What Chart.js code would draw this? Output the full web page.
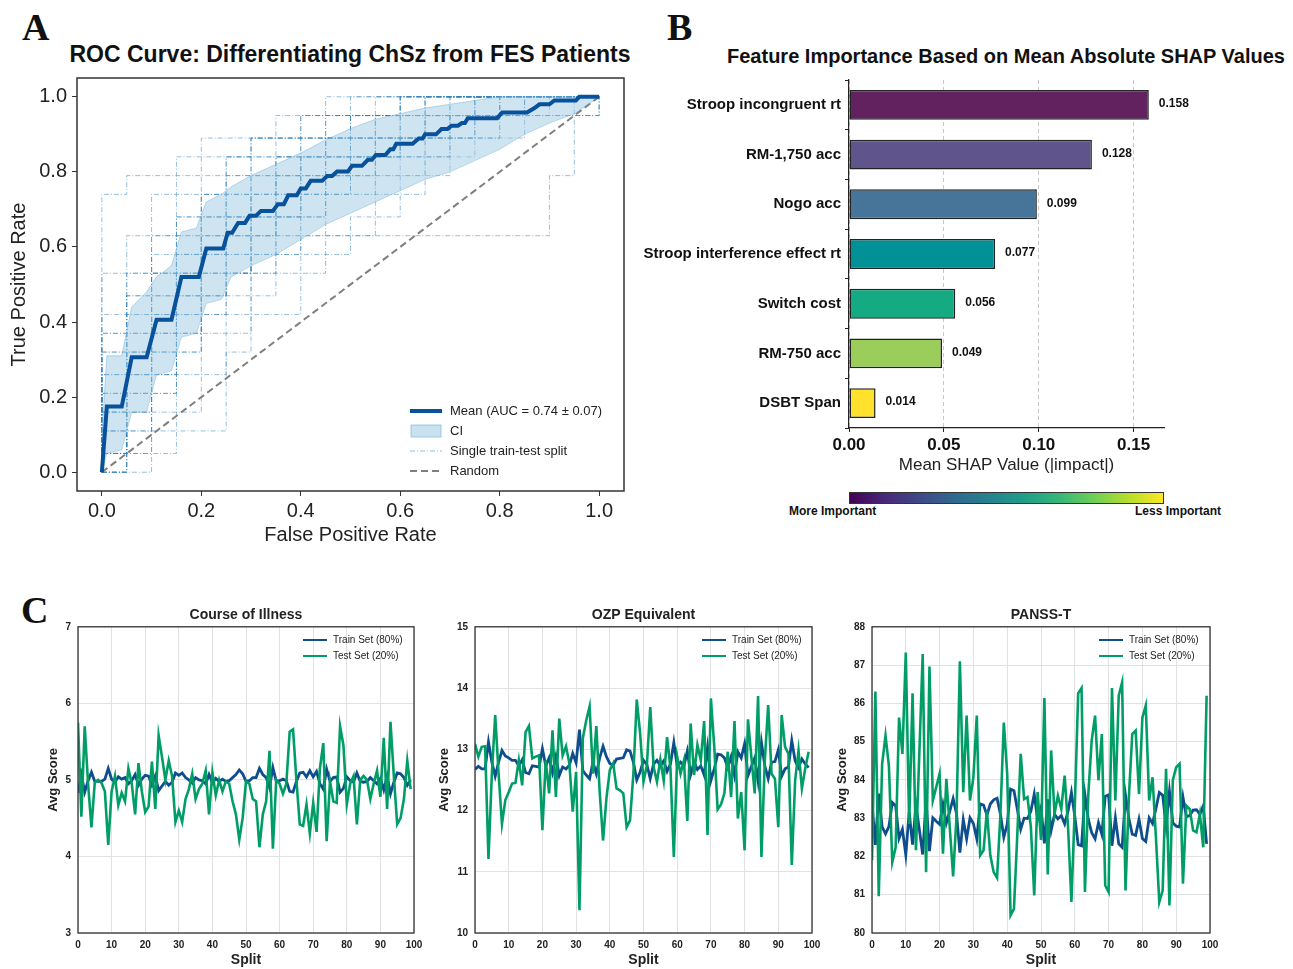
<!DOCTYPE html>
<html>
<head>
<meta charset="utf-8">
<script src="https://cdn.jsdelivr.net/npm/chart.js@4.4.1/dist/chart.umd.min.js"></script>
<style>
  body { margin: 0; background: #fff; width: 1293px; height: 969px; position: relative; overflow: hidden;
         font-family: 'Liberation Sans', Arial, sans-serif; color: #222; }
  canvas, .abs { position: absolute; }
  .letter { position: absolute; font-family: 'Liberation Serif', 'Times New Roman', serif; font-weight: bold;
            font-size: 38px; line-height: 38px; color: #111; }
  .ttl { position: absolute; text-align: center; font-weight: bold; color: #111; white-space: nowrap; }
  .lg { position: absolute; white-space: nowrap; }
  .lg svg { position: absolute; }
  .lg span { position: absolute; }
</style>
</head>
<body>

<div class="letter" style="left:22px; top:8px;">A</div>
<div class="letter" style="left:667px; top:8px;">B</div>
<div class="letter" style="left:21px; top:591px;">C</div>

<div class="ttl" style="left:0; width:700px; top:40px; font-size:23px; line-height:28px;">ROC Curve: Differentiating ChSz from FES Patients</div>
<div class="ttl" style="left:706px; width:600px; top:44px; font-size:20px; line-height:24px;">Feature Importance Based on Mean Absolute SHAP Values</div>

<canvas id="roc" width="640" height="560" style="left:0; top:0;"></canvas>
<canvas id="shap" width="653" height="490" style="left:640px; top:0;"></canvas>
<canvas id="c1" width="430" height="374" style="left:0; top:595px;"></canvas>
<canvas id="c2" width="410" height="374" style="left:420px; top:595px;"></canvas>
<canvas id="c3" width="410" height="374" style="left:820px; top:595px;"></canvas>

<!-- ROC legend -->
<div class="lg" style="left:408px; top:400px; font-size:13px; line-height:16px;">
  <svg width="36" height="80" style="left:0; top:0;">
    <line x1="2" y1="11" x2="34" y2="11" stroke="#08519c" stroke-width="4"/>
    <rect x="3" y="25" width="30" height="12" fill="rgba(158,202,225,0.55)" stroke="rgba(107,174,214,0.6)" stroke-width="1"/>
    <line x1="2" y1="51" x2="34" y2="51" stroke="rgba(66,146,198,0.6)" stroke-width="1" stroke-dasharray="5,2,1,2"/>
    <line x1="2" y1="71" x2="34" y2="71" stroke="#7f7f7f" stroke-width="2" stroke-dasharray="7,4"/>
  </svg>
  <span style="left:42px; top:3px;">Mean (AUC = 0.74 ± 0.07)</span>
  <span style="left:42px; top:23px;">CI</span>
  <span style="left:42px; top:43px;">Single train-test split</span>
  <span style="left:42px; top:63px;">Random</span>
</div>

<!-- SHAP colorbar -->
<div class="abs" style="left:849px; top:492px; width:313px; height:10px; border:1px solid #333;
     background:linear-gradient(to right,#440154,#482878,#3e4989,#31688e,#26828e,#1f9e89,#35b779,#6ece58,#b5de2b,#fde725);"></div>
<div class="abs" style="left:789px; top:504px; font-size:12px; font-weight:bold; color:#111;">More Important</div>
<div class="abs" style="left:1135px; top:504px; font-size:12px; font-weight:bold; color:#111;">Less Important</div>

<!-- C legends -->
<div class="lg" style="left:302px; top:632px; font-size:10px; line-height:14px;" id="lgc1"></div>
<div class="lg" style="left:701px; top:632px; font-size:10px; line-height:14px;" id="lgc2"></div>
<div class="lg" style="left:1098px; top:632px; font-size:10px; line-height:14px;" id="lgc3"></div>

<script>
// ---------- Panel A: ROC ----------
const rocTicks = [0, 0.2, 0.4, 0.6, 0.8, 1.0];

const meanFpr = [0, 0.01, 0.04, 0.06, 0.09, 0.11, 0.14, 0.16, 0.195, 0.21, 0.244, 0.253, 0.262, 0.274, 0.288,
  0.297, 0.31, 0.32, 0.344, 0.354, 0.366, 0.375, 0.392, 0.40, 0.41, 0.42, 0.443, 0.453, 0.463, 0.473, 0.495,
  0.503, 0.523, 0.535, 0.543, 0.551, 0.57, 0.58, 0.586, 0.592, 0.625, 0.637, 0.645, 0.65, 0.672, 0.683, 0.695,
  0.703, 0.716, 0.724, 0.73, 0.736, 0.795, 0.805, 0.855, 0.87, 0.88, 0.9, 0.91, 0.953, 0.96, 1.0];
const meanTpr = [0, 0.175, 0.175, 0.306, 0.306, 0.406, 0.406, 0.52, 0.52, 0.596, 0.596, 0.638, 0.638, 0.664, 0.664,
  0.683, 0.683, 0.696, 0.696, 0.714, 0.714, 0.738, 0.738, 0.756, 0.756, 0.776, 0.776, 0.789, 0.789, 0.801, 0.801,
  0.816, 0.816, 0.832, 0.832, 0.845, 0.845, 0.86, 0.86, 0.875, 0.875, 0.889, 0.889, 0.90, 0.90, 0.914, 0.914,
  0.923, 0.923, 0.93, 0.93, 0.943, 0.943, 0.958, 0.958, 0.97, 0.98, 0.98, 0.99, 0.99, 1.0, 1.0];

const ciFpr = [0, 0.01, 0.04, 0.06, 0.09, 0.11, 0.14, 0.16, 0.19, 0.21, 0.24, 0.26, 0.3, 0.35, 0.4, 0.45, 0.5,
  0.55, 0.6, 0.65, 0.7, 0.75, 0.8, 0.85, 0.9, 0.95, 1.0];
const ciUpper = [0.1, 0.31, 0.31, 0.44, 0.48, 0.52, 0.55, 0.64, 0.65, 0.72, 0.74, 0.76, 0.79, 0.82, 0.85, 0.885,
  0.915, 0.94, 0.955, 0.97, 0.98, 0.99, 1.0, 1.0, 1.0, 1.0, 1.0];
const ciLower = [0, 0.05, 0.06, 0.16, 0.16, 0.26, 0.27, 0.36, 0.37, 0.45, 0.46, 0.52, 0.55, 0.58, 0.62, 0.66,
  0.69, 0.72, 0.75, 0.78, 0.8, 0.83, 0.86, 0.9, 0.93, 0.955, 1.0];

const randomFpr = [0, 1];
const randomTpr = [0, 1];

// one ROC per train-test split, TPR read at each FPR step
const splitFpr = [0, 0, 0.05, 0.1, 0.15, 0.2, 0.25, 0.3, 0.35, 0.4, 0.45, 0.5, 0.55, 0.6, 0.65, 0.7, 0.75, 0.8,
  0.85, 0.9, 0.95, 1.0];
const splitTprs = [
  [0, 0.74, 0.79, 0.79, 0.84, 0.89, 0.89, 0.89, 0.95, 0.95, 1, 1, 1, 1, 1, 1, 1, 1, 1, 1, 1, 1],
  [0, 0.53, 0.63, 0.74, 0.79, 0.84, 0.84, 0.89, 0.89, 0.95, 0.95, 0.95, 0.95, 1, 1, 1, 1, 1, 1, 1, 1, 1],
  [0, 0.32, 0.37, 0.53, 0.63, 0.68, 0.74, 0.79, 0.84, 0.84, 0.89, 0.95, 0.95, 0.95, 1, 1, 1, 1, 1, 1, 1, 1],
  [0, 0.16, 0.32, 0.42, 0.53, 0.63, 0.68, 0.68, 0.74, 0.79, 0.84, 0.84, 0.89, 0.89, 0.95, 0.95, 0.95, 1, 1, 1, 1, 1],
  [0, 0, 0.05, 0.32, 0.42, 0.58, 0.58, 0.63, 0.68, 0.74, 0.79, 0.84, 0.84, 0.89, 0.89, 0.95, 0.95, 1, 1, 1, 1, 1],
  [0, 0.05, 0.16, 0.21, 0.37, 0.47, 0.53, 0.58, 0.68, 0.74, 0.74, 0.79, 0.84, 0.84, 0.89, 0.89, 0.95, 0.95, 1, 1, 1, 1],
  [0, 0, 0, 0.11, 0.11, 0.11, 0.37, 0.47, 0.53, 0.58, 0.63, 0.68, 0.74, 0.79, 0.84, 0.89, 0.95, 0.95, 1, 1, 1, 1],
  [0, 0, 0.05, 0.05, 0.16, 0.26, 0.32, 0.42, 0.42, 0.53, 0.58, 0.63, 0.68, 0.74, 0.79, 0.84, 0.89, 0.89, 0.95, 0.95, 1, 1],
  [0, 0.21, 0.26, 0.37, 0.47, 0.53, 0.63, 0.63, 0.68, 0.74, 0.79, 0.84, 0.84, 0.89, 0.89, 0.95, 0.95, 0.95, 1, 1, 1, 1],
  [0, 0.11, 0.21, 0.26, 0.32, 0.37, 0.42, 0.53, 0.58, 0.63, 0.63, 0.63, 0.63, 0.63, 0.63, 0.63, 0.63, 0.63, 0.63, 0.79, 0.95, 1],
  [0, 0.37, 0.47, 0.58, 0.68, 0.74, 0.79, 0.84, 0.84, 0.89, 0.89, 0.95, 0.95, 0.95, 0.95, 0.95, 0.95, 1, 1, 1, 1, 1],
  [0, 0.26, 0.42, 0.47, 0.58, 0.63, 0.68, 0.74, 0.79, 0.79, 0.84, 0.89, 0.89, 0.95, 0.95, 1, 1, 1, 1, 1, 1, 1],
  [0, 0.05, 0.11, 0.16, 0.26, 0.42, 0.53, 0.53, 0.58, 0.63, 0.74, 0.74, 0.79, 0.84, 0.84, 0.89, 0.89, 0.95, 0.95, 1, 1, 1],
  [0, 0.16, 0.37, 0.47, 0.58, 0.68, 0.74, 0.74, 0.79, 0.84, 0.89, 0.89, 0.89, 0.95, 0.95, 0.95, 1, 1, 1, 1, 1, 1],
  [0, 0, 0.26, 0.37, 0.42, 0.47, 0.53, 0.63, 0.68, 0.68, 0.74, 0.79, 0.84, 0.84, 0.89, 0.89, 0.89, 0.95, 0.95, 0.95, 0.95, 1],
  [0, 0.11, 0.16, 0.26, 0.37, 0.47, 0.53, 0.58, 0.63, 0.68, 0.74, 0.74, 0.79, 0.79, 0.84, 0.89, 0.95, 0.95, 1, 1, 1, 1],
  [0, 0.05, 0.21, 0.32, 0.47, 0.53, 0.58, 0.68, 0.74, 0.79, 0.79, 0.84, 0.89, 0.89, 0.95, 0.95, 1, 1, 1, 1, 1, 1],
  [0, 0.26, 0.32, 0.42, 0.53, 0.58, 0.63, 0.68, 0.74, 0.79, 0.84, 0.84, 0.89, 0.89, 0.89, 0.95, 0.95, 0.95, 0.95, 0.95, 0.95, 1],
  [0, 0.42, 0.53, 0.63, 0.74, 0.79, 0.84, 0.89, 0.89, 0.95, 0.95, 1, 1, 1, 1, 1, 1, 1, 1, 1, 1, 1],
  [0, 0.11, 0.26, 0.42, 0.53, 0.63, 0.68, 0.74, 0.79, 0.84, 0.89, 0.89, 0.95, 0.95, 0.95, 1, 1, 1, 1, 1, 1, 1],
  [0, 0.05, 0.11, 0.21, 0.32, 0.42, 0.47, 0.58, 0.63, 0.68, 0.74, 0.79, 0.84, 0.89, 0.89, 0.95, 0.95, 1, 1, 1, 1, 1],
  [0, 0.21, 0.37, 0.47, 0.53, 0.58, 0.68, 0.74, 0.79, 0.84, 0.84, 0.89, 0.95, 0.95, 1, 1, 1, 1, 1, 1, 1, 1],
  [0, 0.16, 0.21, 0.32, 0.42, 0.47, 0.58, 0.63, 0.68, 0.74, 0.79, 0.84, 0.84, 0.89, 0.89, 0.95, 0.95, 0.95, 1, 1, 1, 1],
  [0, 0.32, 0.42, 0.53, 0.58, 0.68, 0.74, 0.79, 0.84, 0.89, 0.89, 0.95, 0.95, 1, 1, 1, 1, 1, 1, 1, 1, 1],
  [0, 0.05, 0.26, 0.42, 0.47, 0.58, 0.63, 0.68, 0.74, 0.74, 0.79, 0.84, 0.89, 0.89, 0.95, 0.95, 1, 1, 1, 1, 1, 1],
  [0, 0.26, 0.47, 0.53, 0.63, 0.74, 0.79, 0.84, 0.89, 0.89, 0.95, 0.95, 0.95, 1, 1, 1, 1, 1, 1, 1, 1, 1],
  [0, 0.11, 0.32, 0.37, 0.47, 0.53, 0.53, 0.63, 0.68, 0.74, 0.79, 0.79, 0.84, 0.89, 0.95, 0.95, 0.95, 1, 1, 1, 1, 1],
  [0, 0.16, 0.26, 0.53, 0.58, 0.63, 0.68, 0.79, 0.84, 0.84, 0.89, 0.89, 0.95, 0.95, 1, 1, 1, 1, 1, 1, 1, 1],
  [0, 0, 0.16, 0.37, 0.53, 0.58, 0.63, 0.74, 0.79, 0.84, 0.84, 0.89, 0.89, 0.95, 0.95, 0.95, 1, 1, 1, 1, 1, 1],
  [0, 0.37, 0.53, 0.63, 0.68, 0.74, 0.84, 0.89, 0.89, 0.89, 0.95, 0.95, 1, 1, 1, 1, 1, 1, 1, 1, 1, 1],
  [0, 0.05, 0.21, 0.26, 0.37, 0.53, 0.63, 0.68, 0.74, 0.79, 0.84, 0.89, 0.89, 0.89, 0.95, 0.95, 0.95, 1, 1, 1, 1, 1],
  [0, 0.21, 0.32, 0.42, 0.58, 0.68, 0.74, 0.74, 0.79, 0.84, 0.89, 0.95, 0.95, 1, 1, 1, 1, 1, 1, 1, 1, 1],
];

// ---------- Panel B: SHAP ----------
const featureNames = ['Stroop incongruent rt', 'RM-1,750 acc', 'Nogo acc', 'Stroop interference effect rt',
  'Switch cost', 'RM-750 acc', 'DSBT Span'];
const shapValues = [0.158, 0.128, 0.099, 0.077, 0.056, 0.049, 0.014];
const shapTicks = [0, 0.05, 0.10, 0.15];

// ---------- Panel C: score balance per split ----------
const splitIdx = [0, 1, 2, 3, 4, 5, 6, 7, 8, 9, 10, 11, 12, 13, 14, 15, 16, 17, 18, 19, 20, 21, 22, 23, 24, 25,
  26, 27, 28, 29, 30, 31, 32, 33, 34, 35, 36, 37, 38, 39, 40, 41, 42, 43, 44, 45, 46, 47, 48, 49, 50, 51, 52,
  53, 54, 55, 56, 57, 58, 59, 60, 61, 62, 63, 64, 65, 66, 67, 68, 69, 70, 71, 72, 73, 74, 75, 76, 77, 78, 79,
  80, 81, 82, 83, 84, 85, 86, 87, 88, 89, 90, 91, 92, 93, 94, 95, 96, 97, 98, 99];

const illnessTrain = [4.83, 5.07, 4.84, 4.99, 5.10, 4.98, 4.98, 4.98, 5.01, 5.15,
  5.01, 4.97, 5.04, 5.01, 5.03, 4.95, 4.99, 5.07, 4.93, 5.01,
  5.06, 5.05, 4.93, 5.05, 4.86, 4.92, 4.98, 4.93, 4.97, 5.09,
  5.06, 5.09, 5.03, 5.00, 4.96, 5.03, 5.00, 4.99, 4.95, 5.07,
  4.96, 5.02, 4.98, 5.01, 4.98, 4.99, 5.03, 5.07, 5.13, 5.08,
  4.98, 4.99, 5.03, 5.03, 5.15, 5.07, 5.03, 4.90, 5.16, 4.98,
  4.99, 5.01, 4.99, 4.85, 4.84, 4.98, 5.09, 5.10, 5.04, 5.12,
  5.04, 5.11, 4.95, 4.88, 5.14, 4.98, 5.03, 5.04, 4.84, 4.89,
  5.04, 4.99, 4.97, 5.09, 4.98, 4.97, 4.98, 5.03, 4.99, 4.95,
  5.02, 4.87, 5.05, 4.82, 4.97, 5.09, 5.08, 5.03, 4.93, 5.00];
const illnessTest = [5.75, 4.52, 5.70, 4.95, 4.38, 4.97, 5.00, 4.96, 4.85, 4.15,
  4.85, 5.05, 4.67, 4.83, 4.72, 5.15, 4.95, 4.55, 5.22, 4.85,
  4.58, 4.65, 5.24, 4.62, 5.58, 5.30, 5.00, 5.25, 5.05, 4.45,
  4.60, 4.45, 4.75, 4.88, 5.08, 4.75, 4.88, 4.95, 5.12, 4.55,
  5.10, 4.80, 5.00, 4.85, 4.98, 4.95, 4.72, 4.55, 4.22, 4.50,
  4.98, 4.95, 4.75, 4.72, 4.12, 4.55, 4.72, 5.38, 4.10, 5.00,
  4.95, 4.82, 4.95, 5.63, 5.66, 5.00, 4.42, 4.40, 4.68, 4.30,
  4.70, 4.32, 5.15, 5.48, 4.20, 4.98, 4.72, 4.70, 5.70, 5.45,
  4.68, 4.95, 5.05, 4.42, 5.00, 5.05, 5.00, 4.75, 4.95, 5.12,
  4.78, 5.55, 4.62, 5.76, 5.05, 4.42, 4.50, 4.75, 5.25, 4.88];

const ozpTrain = [12.67, 12.72, 12.68, 12.68, 13.12, 12.79, 12.56, 12.79, 12.98, 12.89,
  12.86, 12.82, 12.82, 12.73, 12.83, 12.62, 12.60, 12.73, 12.72, 12.71,
  13.01, 12.73, 12.86, 12.62, 12.88, 12.57, 12.71, 12.68, 12.74, 12.93,
  12.78, 13.32, 12.65, 12.58, 12.52, 12.79, 12.60, 12.86, 13.05, 12.88,
  12.77, 12.74, 12.84, 12.85, 12.86, 12.99, 12.97, 12.79, 12.50, 12.63,
  12.82, 12.75, 12.52, 12.76, 12.82, 12.73, 12.81, 12.64, 12.76, 13.11,
  12.72, 12.79, 12.73, 12.97, 12.59, 12.79, 12.67, 12.73, 12.58, 13.03,
  12.49, 12.68, 12.92, 12.91, 12.86, 12.70, 12.88, 12.58, 12.96, 12.86,
  13.09, 12.57, 12.72, 12.86, 12.48, 13.11, 12.73, 12.52, 12.79, 12.80,
  12.99, 12.56, 12.68, 12.71, 13.14, 12.81, 12.70, 12.84, 12.76, 12.70];
const ozpTest = [13.09, 12.88, 13.04, 13.05, 11.21, 12.60, 13.56, 12.60, 11.78, 12.17,
  12.30, 12.44, 12.45, 12.82, 12.41, 13.28, 13.38, 12.85, 12.88, 12.90,
  11.68, 12.82, 12.28, 13.31, 12.22, 13.50, 12.90, 13.05, 12.77, 11.98,
  12.63, 10.37, 13.18, 13.47, 13.70, 12.60, 13.38, 12.30, 11.51, 12.20,
  12.66, 12.77, 12.36, 12.33, 12.28, 11.73, 11.84, 12.60, 13.81, 13.26,
  12.47, 12.74, 13.69, 12.71, 12.47, 12.83, 12.49, 13.20, 12.69, 11.24,
  12.88, 12.60, 12.82, 11.83, 13.42, 12.58, 13.07, 12.82, 13.46, 11.60,
  13.83, 13.04, 12.02, 12.10, 12.28, 12.96, 12.22, 13.46, 11.87, 12.30,
  11.35, 13.49, 12.88, 12.28, 13.87, 11.24, 12.82, 13.72, 12.60, 12.52,
  11.73, 13.56, 13.04, 12.93, 11.11, 12.49, 12.98, 12.36, 12.69, 12.96];

const panssTrain = [83.40, 82.30, 83.64, 82.77, 82.59, 82.78, 83.41, 83.32, 82.47, 82.71,
  82.04, 83.16, 82.31, 83.34, 82.71, 82.05, 83.48, 82.14, 83.01, 82.92,
  82.84, 83.36, 82.87, 83.18, 83.51, 83.12, 82.10, 82.96, 82.46, 83.01,
  82.86, 82.46, 83.37, 83.34, 83.08, 83.37, 83.48, 83.52, 83.10, 82.50,
  82.84, 83.76, 83.72, 83.23, 82.71, 83.00, 82.99, 83.18, 83.63, 82.96,
  83.27, 82.34, 83.49, 82.68, 83.10, 82.98, 83.07, 82.85, 83.18, 83.67,
  83.05, 82.31, 82.28, 83.61, 82.97, 82.62, 82.46, 82.88, 82.58, 83.57,
  83.61, 82.28, 83.01, 82.33, 82.24, 83.60, 82.99, 82.58, 82.55, 82.97,
  82.47, 82.39, 83.01, 82.86, 83.25, 83.67, 83.60, 82.80, 83.70, 82.88,
  82.79, 82.77, 83.55, 83.04, 83.07, 83.21, 83.22, 83.10, 83.32, 82.33];
const panssTest = [81.90, 86.31, 80.96, 84.42, 85.16, 84.37, 81.85, 82.24, 85.63, 84.68,
  87.33, 82.85, 86.26, 82.16, 84.68, 87.29, 81.59, 86.96, 83.46, 83.81,
  84.16, 82.07, 84.03, 82.77, 81.48, 83.03, 87.10, 83.68, 85.68, 83.46,
  84.07, 85.68, 82.03, 82.16, 83.20, 82.03, 81.59, 81.44, 83.11, 85.50,
  84.16, 80.46, 80.63, 82.59, 84.68, 83.50, 83.55, 82.77, 80.98, 83.68,
  82.43, 86.14, 81.53, 84.77, 83.11, 83.59, 83.24, 84.11, 82.77, 80.81,
  83.29, 86.26, 86.40, 81.07, 83.63, 85.03, 85.68, 83.99, 85.20, 81.24,
  81.07, 86.40, 83.46, 86.20, 86.55, 81.11, 83.55, 85.20, 85.29, 83.63,
  85.63, 85.94, 83.46, 84.07, 82.50, 80.81, 81.11, 84.29, 80.72, 83.99,
  84.33, 84.42, 81.29, 83.33, 83.24, 82.68, 82.63, 83.11, 82.24, 86.20];

// ---------- styles ----------
const FONT = "'Liberation Sans', Arial, sans-serif";
const TEXT = '#222';
const barColors = ['#62215f', '#5f558c', '#467599', '#009196', '#14aa82', '#9bcd5a', '#fde12d'];
const trainColor = '#0f4e8c';
const testColor = '#009e66';

Chart.defaults.font.family = FONT;
Chart.defaults.color = TEXT;

const pts = (xs, ys) => xs.map((x, i) => ({ x, y: ys[i] }));
const fixTicks = list => s => { s.ticks = list.map(v => ({ value: v })); };

// full box around the plot area
const frame = {
  id: 'frame',
  afterDatasetsDraw(chart, args, opts) {
    if (!opts.show) return;
    const { left, top, right, bottom } = chart.chartArea;
    const ctx = chart.ctx;
    ctx.save();
    ctx.strokeStyle = opts.color;
    ctx.lineWidth = opts.width;
    ctx.strokeRect(left, top, right - left, bottom - top);
    ctx.restore();
  }
};

// value printed after each bar
const barLabels = {
  id: 'barLabels',
  afterDatasetsDraw(chart, args, opts) {
    if (!opts.show) return;
    const ctx = chart.ctx;
    const vals = chart.data.datasets[0].data;
    ctx.save();
    ctx.font = 'bold 12px ' + FONT;
    ctx.fillStyle = '#111';
    ctx.textBaseline = 'middle';
    chart.getDatasetMeta(0).data.forEach((bar, i) => {
      ctx.fillText(vals[i].toFixed(3), bar.x + 10, bar.y - 1);
    });
    ctx.restore();
  }
};

Chart.register(frame, barLabels);

const base = {
  responsive: false,
  animation: false,
  events: [],
  elements: { point: { radius: 0 }, line: { tension: 0 } },
};

// ---------- A ----------
new Chart(document.getElementById('roc'), {
  type: 'line',
  data: {
    datasets: [
      { data: pts(meanFpr, meanTpr), borderColor: '#08519c', borderWidth: 4, fill: false },
      { data: pts(randomFpr, randomTpr), borderColor: '#7f7f7f', borderWidth: 2, borderDash: [7, 4], fill: false },
      { data: pts(ciFpr, ciUpper), borderColor: 'rgba(107,174,214,0.45)', borderWidth: 1,
        backgroundColor: 'rgba(158,202,225,0.5)', fill: '+1' },
      { data: pts(ciFpr, ciLower), borderColor: 'rgba(107,174,214,0.45)', borderWidth: 1, fill: false },
      ...splitTprs.map(t => ({
        data: pts(splitFpr, t), stepped: true, fill: false,
        borderColor: 'rgba(49,130,189,0.5)', borderWidth: 1, borderDash: [5, 2, 1, 2]
      })),
    ]
  },
  options: {
    ...base,
    layout: { padding: { right: 16, top: 78 } },
    plugins: {
      legend: { display: false }, tooltip: { enabled: false },
      frame: { show: true, color: '#333', width: 1.5 },
    },
    scales: {
      x: {
        type: 'linear', min: -0.05, max: 1.05,
        afterBuildTicks: fixTicks(rocTicks), afterFit: s => { s.height = 69; },
        ticks: { font: { size: 20 }, color: TEXT, padding: 3, maxRotation: 0, callback: v => v.toFixed(1) },
        grid: { drawOnChartArea: false, tickLength: 5, tickColor: '#333' }, border: { display: false },
        title: { display: true, text: 'False Positive Rate', font: { size: 20 }, color: TEXT, padding: { top: 0, bottom: 13 } },
      },
      y: {
        type: 'linear', min: -0.05, max: 1.05,
        afterBuildTicks: fixTicks(rocTicks), afterFit: s => { s.width = 77; },
        ticks: { font: { size: 20 }, color: TEXT, padding: 5, callback: v => v.toFixed(1) },
        grid: { drawOnChartArea: false, tickLength: 5, tickColor: '#333' }, border: { display: false },
        title: { display: true, text: 'True Positive Rate', font: { size: 20 }, color: TEXT, padding: { top: 7, bottom: 0 } },
      }
    }
  }
});

// ---------- B ----------
new Chart(document.getElementById('shap'), {
  type: 'bar',
  data: {
    labels: featureNames,
    datasets: [{ data: shapValues, backgroundColor: barColors, borderColor: '#222', borderWidth: 1.5,
                 borderSkipped: false, barPercentage: 0.6, categoryPercentage: 1 }]
  },
  options: {
    ...base,
    indexAxis: 'y',
    layout: { padding: { right: 129, top: 80 } },
    plugins: {
      legend: { display: false }, tooltip: { enabled: false },
      barLabels: { show: true },
    },
    scales: {
      x: {
        type: 'linear', min: 0, max: 0.166,
        afterBuildTicks: fixTicks(shapTicks), afterFit: s => { s.height = 62; },
        ticks: { font: { size: 17, weight: 'bold' }, color: '#111', padding: 3, maxRotation: 0, callback: v => v.toFixed(2) },
        grid: { color: '#c8c8c8', lineWidth: 1, tickLength: 4, tickColor: '#222', tickBorderDash: [] },
        border: { display: true, color: '#222', width: 1.2, dash: [4, 3] },
        title: { display: true, text: 'Mean SHAP Value (|impact|)', font: { size: 17 }, color: TEXT, padding: { top: 0, bottom: 14 } },
      },
      y: {
        afterFit: s => { s.width = 209; },
        ticks: { font: { size: 15, weight: 'bold' }, color: '#111', padding: 4 },
        grid: { drawOnChartArea: false, tickLength: 4, tickColor: '#222' },
        border: { display: true, color: '#222', width: 1.2 },
      }
    }
  }
});

// ---------- C ----------
function scoreChart(id, title, train, test, yMin, yMax, yWidth, yTitlePad, rightPad) {
  new Chart(document.getElementById(id), {
    type: 'line',
    data: {
      datasets: [
        { label: 'Test Set (20%)', data: pts(splitIdx, test), borderColor: testColor, borderWidth: 2.6, fill: false },
        { label: 'Train Set (80%)', data: pts(splitIdx, train), borderColor: trainColor, borderWidth: 2.8, fill: false },
      ]
    },
    options: {
      ...base,
      layout: { padding: { right: rightPad } },
      plugins: {
        legend: { display: false }, tooltip: { enabled: false },
        title: { display: true, fullSize: false, text: title, font: { size: 14, weight: 'bold' }, color: '#222',
                 padding: { top: 12, bottom: 3 } },
        frame: { show: true, color: '#333', width: 1.3 },
      },
      scales: {
        x: {
          type: 'linear', min: 0, max: 100, afterFit: s => { s.height = 36; },
          ticks: { stepSize: 10, font: { size: 10, weight: 'bold' }, color: '#222', padding: 6, maxRotation: 0 },
          grid: { color: '#e2e2e2', drawTicks: false }, border: { display: false },
          title: { display: true, text: 'Split', font: { size: 14, weight: 'bold' }, color: '#222', padding: { top: 0, bottom: 0 } },
        },
        y: {
          type: 'linear', min: yMin, max: yMax, afterFit: s => { s.width = yWidth; },
          ticks: { stepSize: 1, font: { size: 10, weight: 'bold' }, color: '#222', padding: 7 },
          grid: { color: '#e2e2e2', drawTicks: false }, border: { display: false },
          title: { display: true, text: 'Avg Score', font: { size: 13, weight: 'bold' }, color: '#222',
                   padding: { top: yTitlePad, bottom: 0 } },
        }
      }
    }
  });
}

scoreChart('c1', 'Course of Illness', illnessTrain, illnessTest, 3, 7, 78, 46, 16);
scoreChart('c2', 'OZP Equivalent', ozpTrain, ozpTest, 10, 15, 55, 17, 18);
scoreChart('c3', 'PANSS-T', panssTrain, panssTest, 80, 88, 52, 15, 20);

// HTML legends for panel C
['lgc1', 'lgc2', 'lgc3'].forEach(id => {
  document.getElementById(id).innerHTML =
    '<svg width="28" height="32" style="left:0;top:0;">' +
    '<line x1="1" y1="8" x2="25" y2="8" stroke="' + trainColor + '" stroke-width="2"/>' +
    '<line x1="1" y1="24" x2="25" y2="24" stroke="' + testColor + '" stroke-width="2"/></svg>' +
    '<span style="left:31px;top:1px;">Train Set (80%)</span>' +
    '<span style="left:31px;top:17px;">Test Set (20%)</span>';
});
</script>
</body>
</html>
